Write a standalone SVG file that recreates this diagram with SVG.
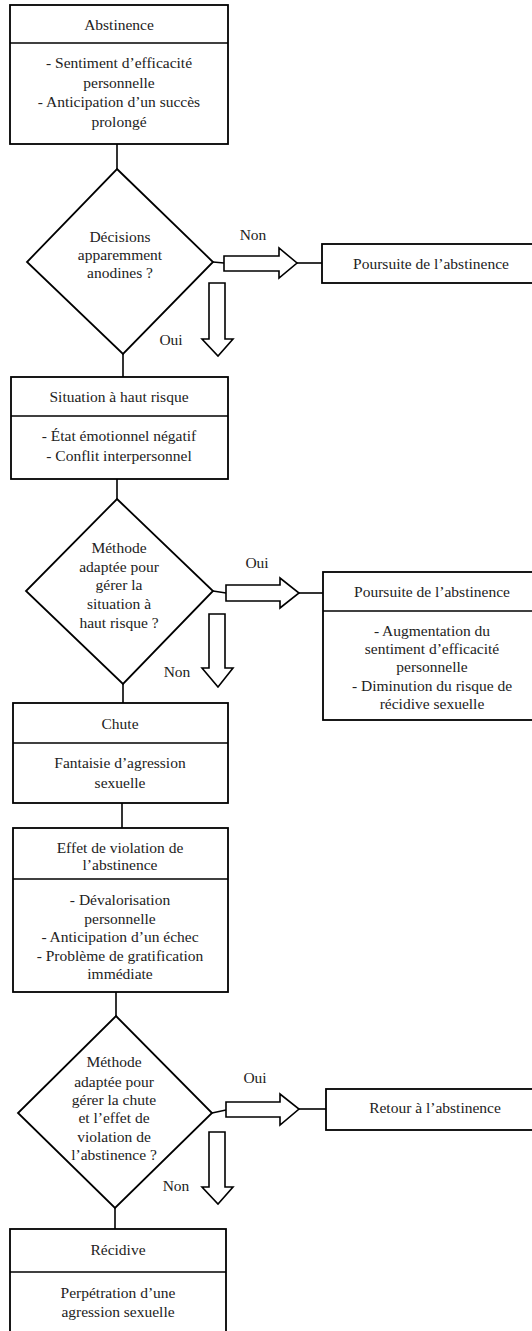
<svg xmlns="http://www.w3.org/2000/svg" width="532" height="1331" viewBox="0 0 532 1331">
<style>
.box{fill:#fff;stroke:#000;stroke-width:1.8}
.ln{fill:none;stroke:#000;stroke-width:1.6}
.ar{fill:#fff;stroke:#000;stroke-width:1.6;stroke-linejoin:miter}
text{font-family:"Liberation Serif","Times New Roman",serif;font-size:15.5px;fill:#222;text-anchor:middle}
</style>
<rect width="532" height="1331" fill="#fff"/>
<g id="connectors">
<line class="ln" x1="117" y1="144" x2="117" y2="169"/>
<line class="ln" x1="213" y1="262" x2="224" y2="263"/>
<line class="ln" x1="297" y1="263" x2="322" y2="263"/>
<polygon class="ar" points="224,256 279,256 279,248 297,263 279,278 279,271 224,271"/>
<polygon class="ar" points="209,283 225,283 225,339 233,339 218,356 202,339 209,339"/>
<text x="253" y="240">Non</text>
<text x="171" y="345">Oui</text>
<line class="ln" x1="123" y1="354" x2="123" y2="377"/>
<line class="ln" x1="117" y1="479" x2="117" y2="499"/>
<line class="ln" x1="213" y1="591" x2="226" y2="593"/>
<line class="ln" x1="299" y1="593" x2="323" y2="593"/>
<polygon class="ar" points="226,585 280,585 280,578 299,593 280,608 280,601 226,601"/>
<polygon class="ar" points="209,614 225,614 225,668 233,668 218,687 202,668 209,668"/>
<text x="257" y="568">Oui</text>
<text x="177" y="677">Non</text>
<line class="ln" x1="123" y1="684" x2="123" y2="703"/>
<line class="ln" x1="122" y1="803" x2="122" y2="828"/>
<line class="ln" x1="116" y1="992" x2="116" y2="1016"/>
<line class="ln" x1="212" y1="1113" x2="226" y2="1110"/>
<line class="ln" x1="299" y1="1109" x2="326" y2="1109"/>
<polygon class="ar" points="226,1102 280,1102 280,1094 299,1109 280,1125 280,1117 226,1117"/>
<polygon class="ar" points="209,1132 225,1132 225,1187 233,1187 218,1204 202,1187 209,1187"/>
<text x="255" y="1083">Oui</text>
<text x="176" y="1191">Non</text>
<line class="ln" x1="115" y1="1208" x2="115" y2="1229"/>
</g>
<g id="abstinence">
<rect class="box" x="10" y="5" width="218" height="139"/>
<line class="ln" x1="10" y1="43" x2="228" y2="43"/>
<text x="119" y="30">Abstinence</text>
<text x="119" y="68">- Sentiment d’efficacité</text>
<text x="119" y="88">personnelle</text>
<text x="119" y="107">- Anticipation d’un succès</text>
<text x="119" y="127">prolongé</text>
</g>
<g id="decision1">
<polygon class="box" points="117,169 213,262 123,354 27,262"/>
<text x="120" y="242">Décisions</text>
<text x="120" y="260">apparemment</text>
<text x="120" y="278">anodines ?</text>
</g>
<g id="poursuite1">
<rect class="box" x="322" y="244" width="220" height="39"/>
<text x="431" y="269">Poursuite de l’abstinence</text>
</g>
<g id="situation">
<rect class="box" x="11" y="377" width="217" height="102"/>
<line class="ln" x1="11" y1="416" x2="228" y2="416"/>
<text x="119" y="402">Situation à haut risque</text>
<text x="119" y="441">- État émotionnel négatif</text>
<text x="119" y="461">- Conflit interpersonnel</text>
</g>
<g id="decision2">
<polygon class="box" points="117,499 213,591 123,684 26,591"/>
<text x="119" y="553">Méthode</text>
<text x="119" y="572">adaptée pour</text>
<text x="119" y="590">gérer  la</text>
<text x="119" y="609">situation à</text>
<text x="119" y="628">haut risque ?</text>
</g>
<g id="poursuite2">
<rect class="box" x="323" y="572" width="220" height="148"/>
<line class="ln" x1="323" y1="611" x2="543" y2="611"/>
<text x="432" y="597">Poursuite de l’abstinence</text>
<text x="432" y="636">- Augmentation du</text>
<text x="432" y="654">sentiment d’efficacité</text>
<text x="432" y="672">personnelle</text>
<text x="432" y="691">- Diminution du risque de</text>
<text x="432" y="709">récidive sexuelle</text>
</g>
<g id="chute">
<rect class="box" x="13" y="703" width="215" height="100"/>
<line class="ln" x1="13" y1="743" x2="228" y2="743"/>
<text x="120" y="729">Chute</text>
<text x="120" y="768">Fantaisie d’agression</text>
<text x="120" y="788">sexuelle</text>
</g>
<g id="violation">
<rect class="box" x="13" y="828" width="215" height="164"/>
<line class="ln" x1="13" y1="879" x2="228" y2="879"/>
<text x="120" y="853">Effet de violation de</text>
<text x="120" y="870">l’abstinence</text>
<text x="120" y="905">- Dévalorisation</text>
<text x="120" y="924">personnelle</text>
<text x="120" y="942">- Anticipation d’un échec</text>
<text x="120" y="961">- Problème de gratification</text>
<text x="120" y="979">immédiate</text>
</g>
<g id="decision3">
<polygon class="box" points="116,1016 212,1113 115,1208 18,1113"/>
<text x="114" y="1067">Méthode</text>
<text x="114" y="1087">adaptée pour</text>
<text x="114" y="1105">gérer  la chute</text>
<text x="114" y="1123">et l’effet de</text>
<text x="114" y="1142">violation de</text>
<text x="114" y="1160">l’abstinence ?</text>
</g>
<g id="retour">
<rect class="box" x="326" y="1089" width="218" height="41"/>
<text x="435" y="1113">Retour à l’abstinence</text>
</g>
<g id="recidive">
<rect class="box" x="10" y="1229" width="216" height="130"/>
<line class="ln" x1="10" y1="1272" x2="226" y2="1272"/>
<text x="118" y="1255">Récidive</text>
<text x="118" y="1298">Perpétration d’une</text>
<text x="118" y="1317">agression sexuelle</text>
</g>
</svg>
